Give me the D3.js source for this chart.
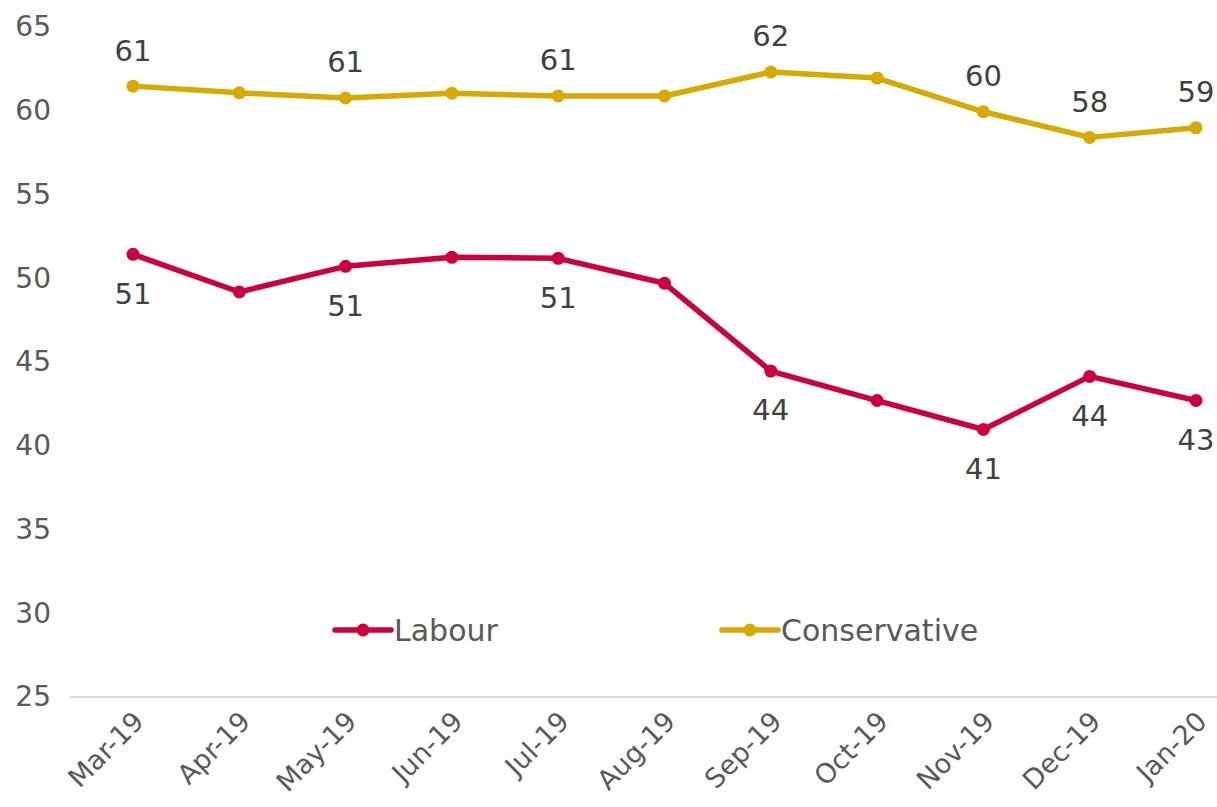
<!doctype html>
<html lang="en">
<head>
<meta charset="utf-8">
<title>Labour vs Conservative</title>
<script src="https://cdn.jsdelivr.net/npm/d3@7"></script>
<style>
  body { margin: 0; background: #fff; font-family: "DejaVu Sans", sans-serif; }
  svg text { font-family: "DejaVu Sans", sans-serif; }
</style>
</head>
<body>
<svg id="chart" width="1217" height="807"></svg>
<script>
// months on the x axis
var months = ["Mar-19","Apr-19","May-19","Jun-19","Jul-19","Aug-19","Sep-19","Oct-19","Nov-19","Dec-19","Jan-20"];
// series values
var labour = [51.43, 49.18, 50.71, 51.25, 51.19, 49.70, 44.46, 42.70, 40.97, 44.14, 42.70];
var conservative = [61.47, 61.07, 60.76, 61.05, 60.88, 60.88, 62.31, 61.95, 59.94, 58.41, 58.98];
// which points carry a data label
var labelled = [0, 2, 4, 6, 8, 9, 10];
var yTicks = [25, 30, 35, 40, 45, 50, 55, 60, 65];

var svg = d3.select("#chart");

var x = d3.scalePoint().domain(months).range([133, 1196]);
var y = d3.scaleLinear().domain([25, 65]).range([697, 27]);

var labourCol = "#CC003D", consCol = "#D6AA00";

// y axis labels (no line)
var yAxis = svg.append("g")
  .attr("transform", "translate(51,0)")
  .call(d3.axisLeft(y).tickValues(yTicks).tickSize(0).tickPadding(0));
yAxis.select(".domain").remove();
yAxis.selectAll("text")
  .attr("font-size", 28)
  .attr("fill", "#595959");

// baseline
svg.append("line")
  .attr("x1", 70).attr("x2", 1217)
  .attr("y1", y(25)).attr("y2", y(25))
  .attr("stroke", "#d9d9d9").attr("stroke-width", 2);

// x axis labels, rotated
var xAxis = svg.append("g")
  .attr("transform", "translate(0," + y(25) + ")")
  .call(d3.axisBottom(x).tickSize(0).tickPadding(0));
xAxis.select(".domain").remove();
xAxis.selectAll("text")
  .attr("font-size", 27)
  .attr("fill", "#595959")
  .attr("text-anchor", "end")
  .attr("dy", 0)
  .attr("transform", "translate(12,26) rotate(-45)");

var line = d3.line().x((d, i) => x(months[i])).y(d => y(d));

function drawSeries(vals, col, above) {
  svg.append("path")
    .datum(vals)
    .attr("d", line)
    .attr("fill", "none")
    .attr("stroke", col)
    .attr("stroke-width", 5.5)
    .attr("stroke-linejoin", "round");

  svg.selectAll(null)
    .data(vals)
    .join("circle")
    .attr("cx", (d, i) => x(months[i]))
    .attr("cy", d => y(d))
    .attr("r", 6.5)
    .attr("fill", col);

  svg.selectAll(null)
    .data(labelled)
    .join("text")
    .attr("x", i => x(months[i]))
    .attr("y", i => y(vals[i]) + (above ? -36 : 39))
    .attr("dy", "0.36em")
    .attr("text-anchor", "middle")
    .attr("font-size", 29)
    .attr("fill", "#404040")
    .text(i => Math.round(vals[i]));
}

drawSeries(labour, labourCol, false);
drawSeries(conservative, consCol, true);

// legend
var legend = [
  {name: "Labour", col: labourCol, x: 335},
  {name: "Conservative", col: consCol, x: 722}
];
var lg = svg.selectAll("g.legend")
  .data(legend)
  .join("g")
  .attr("class", "legend")
  .attr("transform", d => "translate(" + d.x + ",630)");
lg.append("line")
  .attr("x1", 0).attr("x2", 56)
  .attr("stroke", d => d.col).attr("stroke-width", 5.5)
  .attr("stroke-linecap", "round");
lg.append("circle")
  .attr("cx", 28).attr("r", 6.5)
  .attr("fill", d => d.col);
lg.append("text")
  .attr("x", 59)
  .attr("dy", "0.36em")
  .attr("font-size", 30)
  .attr("fill", "#595959")
  .text(d => d.name);
</script>
</body>
</html>
